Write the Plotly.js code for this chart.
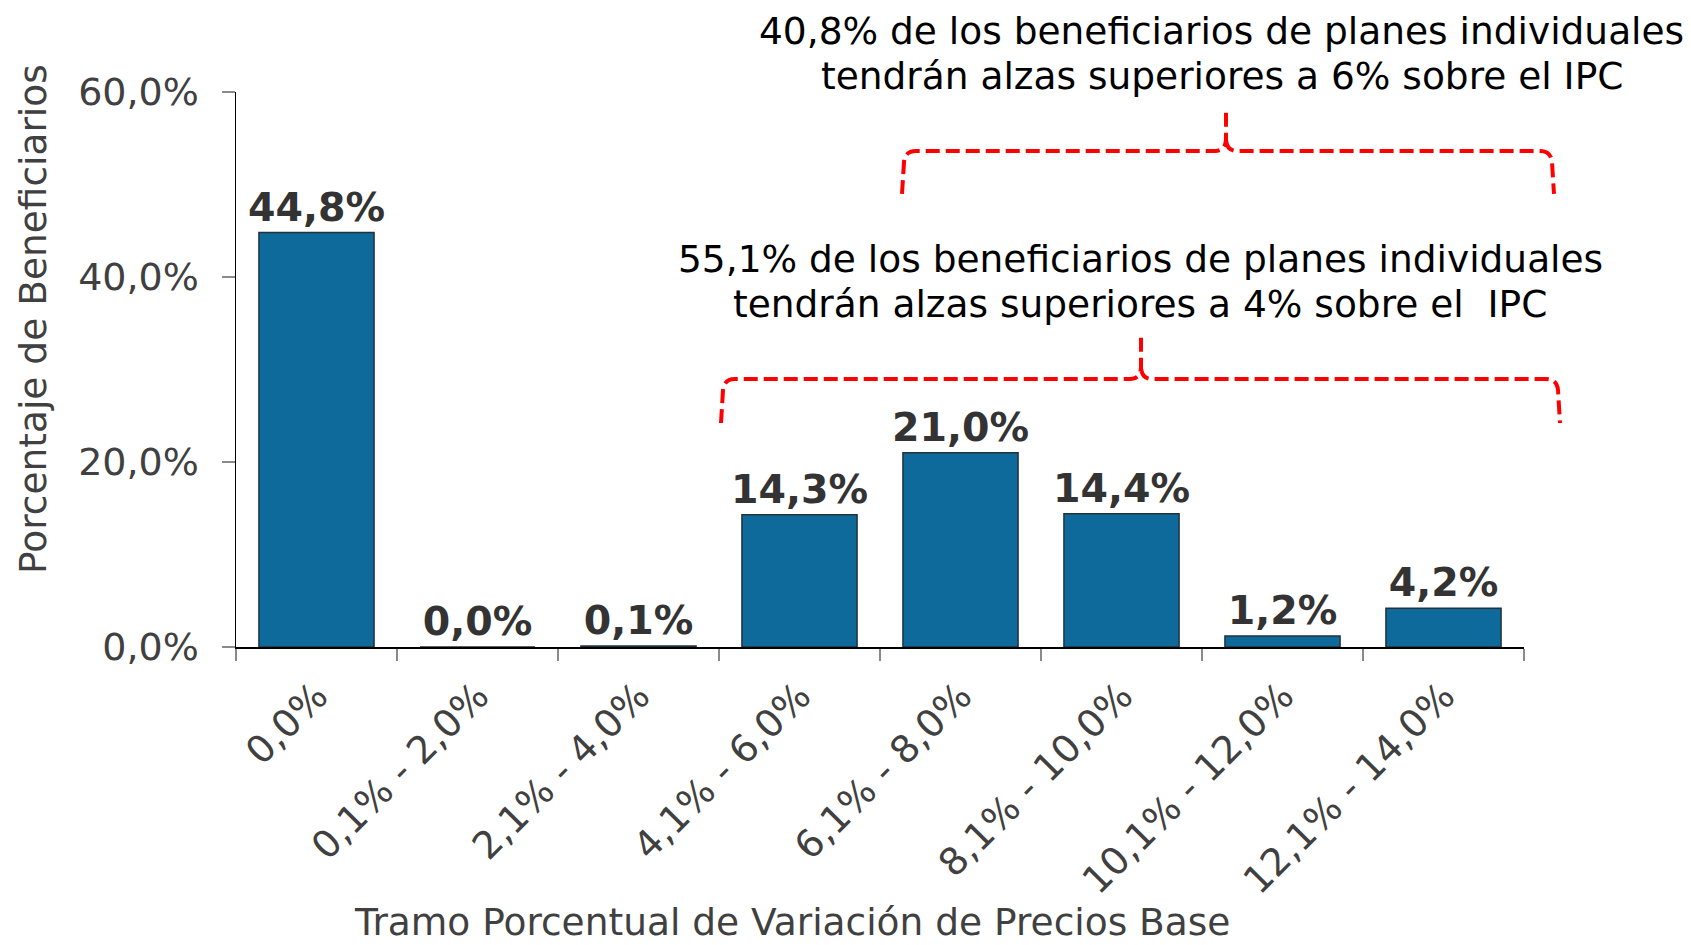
<!DOCTYPE html>
<html>
<head>
<meta charset="utf-8">
<script src="https://cdn.plot.ly/plotly-3.0.1.min.js"></script>
<style>html,body{margin:0;padding:0;background:#fff;}</style>
</head>
<body>
<div id="chart" style="width:1691px;height:945px;"></div>
<script>
// ---- data ----
const categories = ["0,0%", "0,1% - 2,0%", "2,1% - 4,0%", "4,1% - 6,0%", "6,1% - 8,0%", "8,1% - 10,0%", "10,1% - 12,0%", "12,1% - 14,0%"];
const shares = [44.8, 0.0, 0.1, 14.3, 21.0, 14.4, 1.2, 4.2];
const yTickVals = [0, 20, 40, 60];
const yTickText = ["0,0%", "20,0%", "40,0%", "60,0%"];
const xTitle = "Tramo Porcentual de Variación de Precios Base";
const yTitle = "Porcentaje de Beneficiarios";
const note6 = ["40,8% de los beneficiarios de planes individuales", "tendrán alzas superiores a 6% sobre el IPC"];
const note4 = ["55,1% de los beneficiarios de planes individuales", "tendrán alzas superiores a 4% sobre el\u00A0 IPC"];

// ---- layout geometry (pixels) ----
const W = 1691, H = 945;
const PL = 236, PR = 1524, PT = 92, PB = 647;
const px = x => (x - PL) / (PR - PL);
const py = y => (PB - y) / (PB - PT);
function pathFrom(cmds) {
  return cmds.map(c => c[0] + ' ' + c.slice(1).reduce((acc, v, i) => {
    if (i % 2 === 0) acc.push(px(v).toFixed(5)); else acc[acc.length - 1] += ',' + py(v).toFixed(5);
    return acc;
  }, []).join(' ')).join(' ');
}
function bracket(xl, xr, xm, yh, yend, ytop) {
  const r = 11;
  return pathFrom([
    ['M', xl, yend], ['L', xl + 2, yh + r], ['Q', xl + 3, yh, xl + 3 + r, yh],
    ['L', xm - r, yh], ['Q', xm - 1, yh, xm, yh - r], ['L', xm, ytop],
    ['M', xm, yh - r], ['Q', xm + 1, yh, xm + r, yh],
    ['L', xr - 3 - r, yh], ['Q', xr - 3, yh, xr - 2, yh + r], ['L', xr, yend]
  ]);
}

const fmt = v => v.toFixed(1).replace('.', ',') + '%';
const textColor = '#404040';

const trace = {
  type: 'bar',
  x: categories,
  y: shares,
  text: shares.map(fmt),
  textposition: 'outside',
  constraintext: 'none',
  cliponaxis: false,
  textfont: {family: 'DejaVu Sans', size: 39.5, color: '#333333', weight: 'bold'},
  marker: {color: '#0d6a9b', line: {color: '#22323c', width: 1.5}},
  hoverinfo: 'skip'
};

const annotations = [
  {text: xTitle, xref: 'paper', yref: 'paper', x: px(792), y: py(922), xanchor: 'center', yanchor: 'middle', showarrow: false, borderpad: 0,
   font: {family: 'DejaVu Sans', size: 37.5, color: textColor}},
  {text: yTitle, xref: 'paper', yref: 'paper', x: px(33), y: py(319), xanchor: 'center', yanchor: 'middle', textangle: -90, showarrow: false,
   font: {family: 'DejaVu Sans', size: 37.5, color: textColor}},
  {text: note6[0], xref: 'paper', yref: 'paper', x: px(1221), y: py(31), xanchor: 'center', yanchor: 'middle', showarrow: false,
   font: {family: 'DejaVu Sans', size: 37.5, color: '#000000'}},
  {text: note6[1], xref: 'paper', yref: 'paper', x: px(1222), y: py(76), xanchor: 'center', yanchor: 'middle', showarrow: false,
   font: {family: 'DejaVu Sans', size: 37.5, color: '#000000'}},
  {text: note4[0], xref: 'paper', yref: 'paper', x: px(1140), y: py(259), xanchor: 'center', yanchor: 'middle', showarrow: false,
   font: {family: 'DejaVu Sans', size: 37.5, color: '#000000'}},
  {text: note4[1], xref: 'paper', yref: 'paper', x: px(1140), y: py(304), xanchor: 'center', yanchor: 'middle', showarrow: false,
   font: {family: 'DejaVu Sans', size: 37.5, color: '#000000'}}
];

const dashLine = {color: '#ff0000', width: 4, dash: '14px,6px'};
const shapes = [
  {type: 'path', xref: 'paper', yref: 'paper', path: bracket(902, 1554, 1226, 151, 194, 108), line: dashLine},
  {type: 'path', xref: 'paper', yref: 'paper', path: bracket(721, 1560, 1141, 379, 423, 332), line: dashLine}
];

const layout = {
  width: W, height: H,
  margin: {l: PL, r: W - PR, t: PT, b: H - PB, pad: 0},
  paper_bgcolor: '#ffffff', plot_bgcolor: '#ffffff',
  showlegend: false,
  bargap: 0.285,
  font: {family: 'DejaVu Sans', color: textColor},
  xaxis: {
    type: 'category',
    showline: true, linecolor: '#000000', linewidth: 1.5,
    ticks: 'outside', tickson: 'boundaries', ticklen: 12, tickcolor: '#8a8a8a', tickwidth: 1.5,
    tickangle: -45,
    ticklabelstandoff: 10,
    tickfont: {family: 'DejaVu Sans', size: 38, color: textColor},
    showgrid: false, zeroline: false, fixedrange: true
  },
  yaxis: {
    range: [0, 60],
    tickvals: yTickVals, ticktext: yTickText,
    showline: true, linecolor: '#000000', linewidth: 1.5,
    ticks: 'outside', ticklen: 13, tickcolor: '#8a8a8a', tickwidth: 1.5,
    ticklabelstandoff: 15,
    tickfont: {family: 'DejaVu Sans', size: 38, color: textColor},
    showgrid: false, zeroline: false, fixedrange: true
  },
  annotations: annotations,
  shapes: shapes
};

Plotly.newPlot('chart', [trace], layout, {displayModeBar: false, staticPlot: true});
</script>
</body>
</html>
